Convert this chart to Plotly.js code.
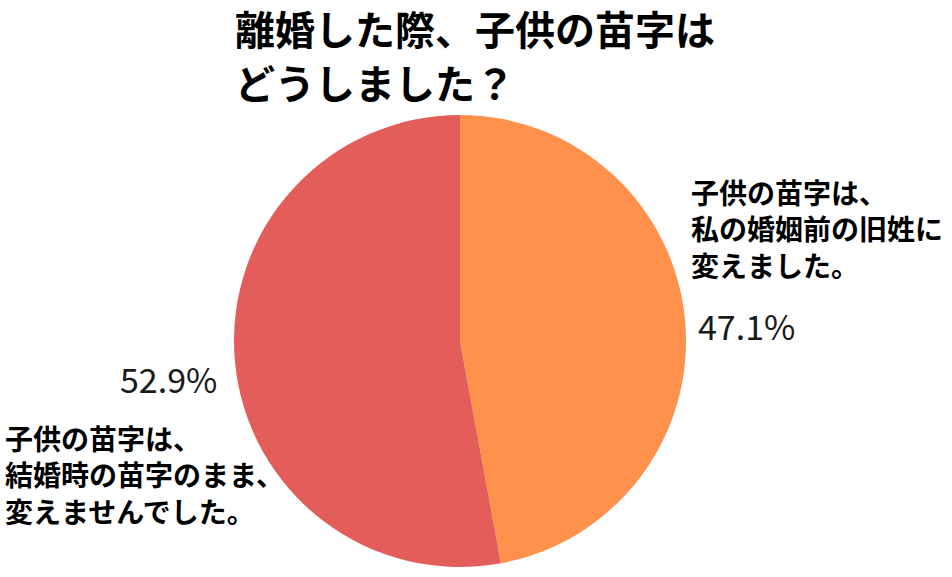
<!DOCTYPE html>
<html>
<head>
<meta charset="utf-8">
<script src="https://cdn.plot.ly/plotly-3.0.1.min.js"></script>
<style>html,body{margin:0;padding:0;background:#fff;}#chart{width:952px;height:577px;}</style>
</head>
<body>
<div id="chart"></div>
<script>
const categories = ["子供の苗字は、<br>私の婚姻前の旧姓に<br>変えました。", "子供の苗字は、<br>結婚時の苗字のまま、<br>変えませんでした。"];
const values = [47.1, 52.9];
const percentLabels = ["47.1%", "52.9%"];
const colors = ["#FF914D", "#E35D5A"];
const titleLines = ["離婚した際、子供の苗字は", "どうしました？"];

const W = 952, H = 577;
const px = x => x / W;
const py = y => 1 - y / H;
const font = "Noto Sans CJK JP, Noto Sans, sans-serif";

const data = [{
  type: "pie",
  labels: categories,
  values: values,
  sort: false,
  direction: "clockwise",
  rotation: 0,
  textinfo: "none",
  hoverinfo: "label+percent",
  marker: {colors: colors, line: {width: 0}},
  domain: {x: [px(234), px(686)], y: [py(567), py(115)]},
  showlegend: false
}];

const layout = {
  width: W, height: H,
  margin: {l: 0, r: 0, t: 0, b: 0},
  paper_bgcolor: "#ffffff",
  showlegend: false,
  annotations: [
    {text: "<b>" + titleLines[0] + "</b>", xref: "paper", yref: "paper", x: px(233), y: py(28),
     xanchor: "left", yanchor: "middle", align: "left", showarrow: false,
     font: {family: font, size: 40, color: "#000000"}},
    {text: "<b>" + titleLines[1] + "</b>", xref: "paper", yref: "paper", x: px(233), y: py(82),
     xanchor: "left", yanchor: "middle", align: "left", showarrow: false,
     font: {family: font, size: 40, color: "#000000"}},
    {text: "<b>" + categories[0] + "</b>", xref: "paper", yref: "paper", x: px(689), y: py(228),
     xanchor: "left", yanchor: "middle", align: "left", showarrow: false,
     font: {family: font, size: 28, color: "#000000"}},
    {text: percentLabels[0], xref: "paper", yref: "paper", x: px(696), y: py(325),
     xanchor: "left", yanchor: "middle", align: "left", showarrow: false,
     font: {family: font, size: 34, color: "#1a1a1a"}},
    {text: "<b>" + categories[1] + "</b>", xref: "paper", yref: "paper", x: px(3), y: py(474),
     xanchor: "left", yanchor: "middle", align: "left", showarrow: false,
     font: {family: font, size: 28, color: "#000000"}},
    {text: percentLabels[1], xref: "paper", yref: "paper", x: px(219), y: py(378),
     xanchor: "right", yanchor: "middle", align: "right", showarrow: false,
     font: {family: font, size: 34, color: "#1a1a1a"}}
  ]
};

Plotly.newPlot("chart", data, layout, {displayModeBar: false, staticPlot: true});
</script>
</body>
</html>
